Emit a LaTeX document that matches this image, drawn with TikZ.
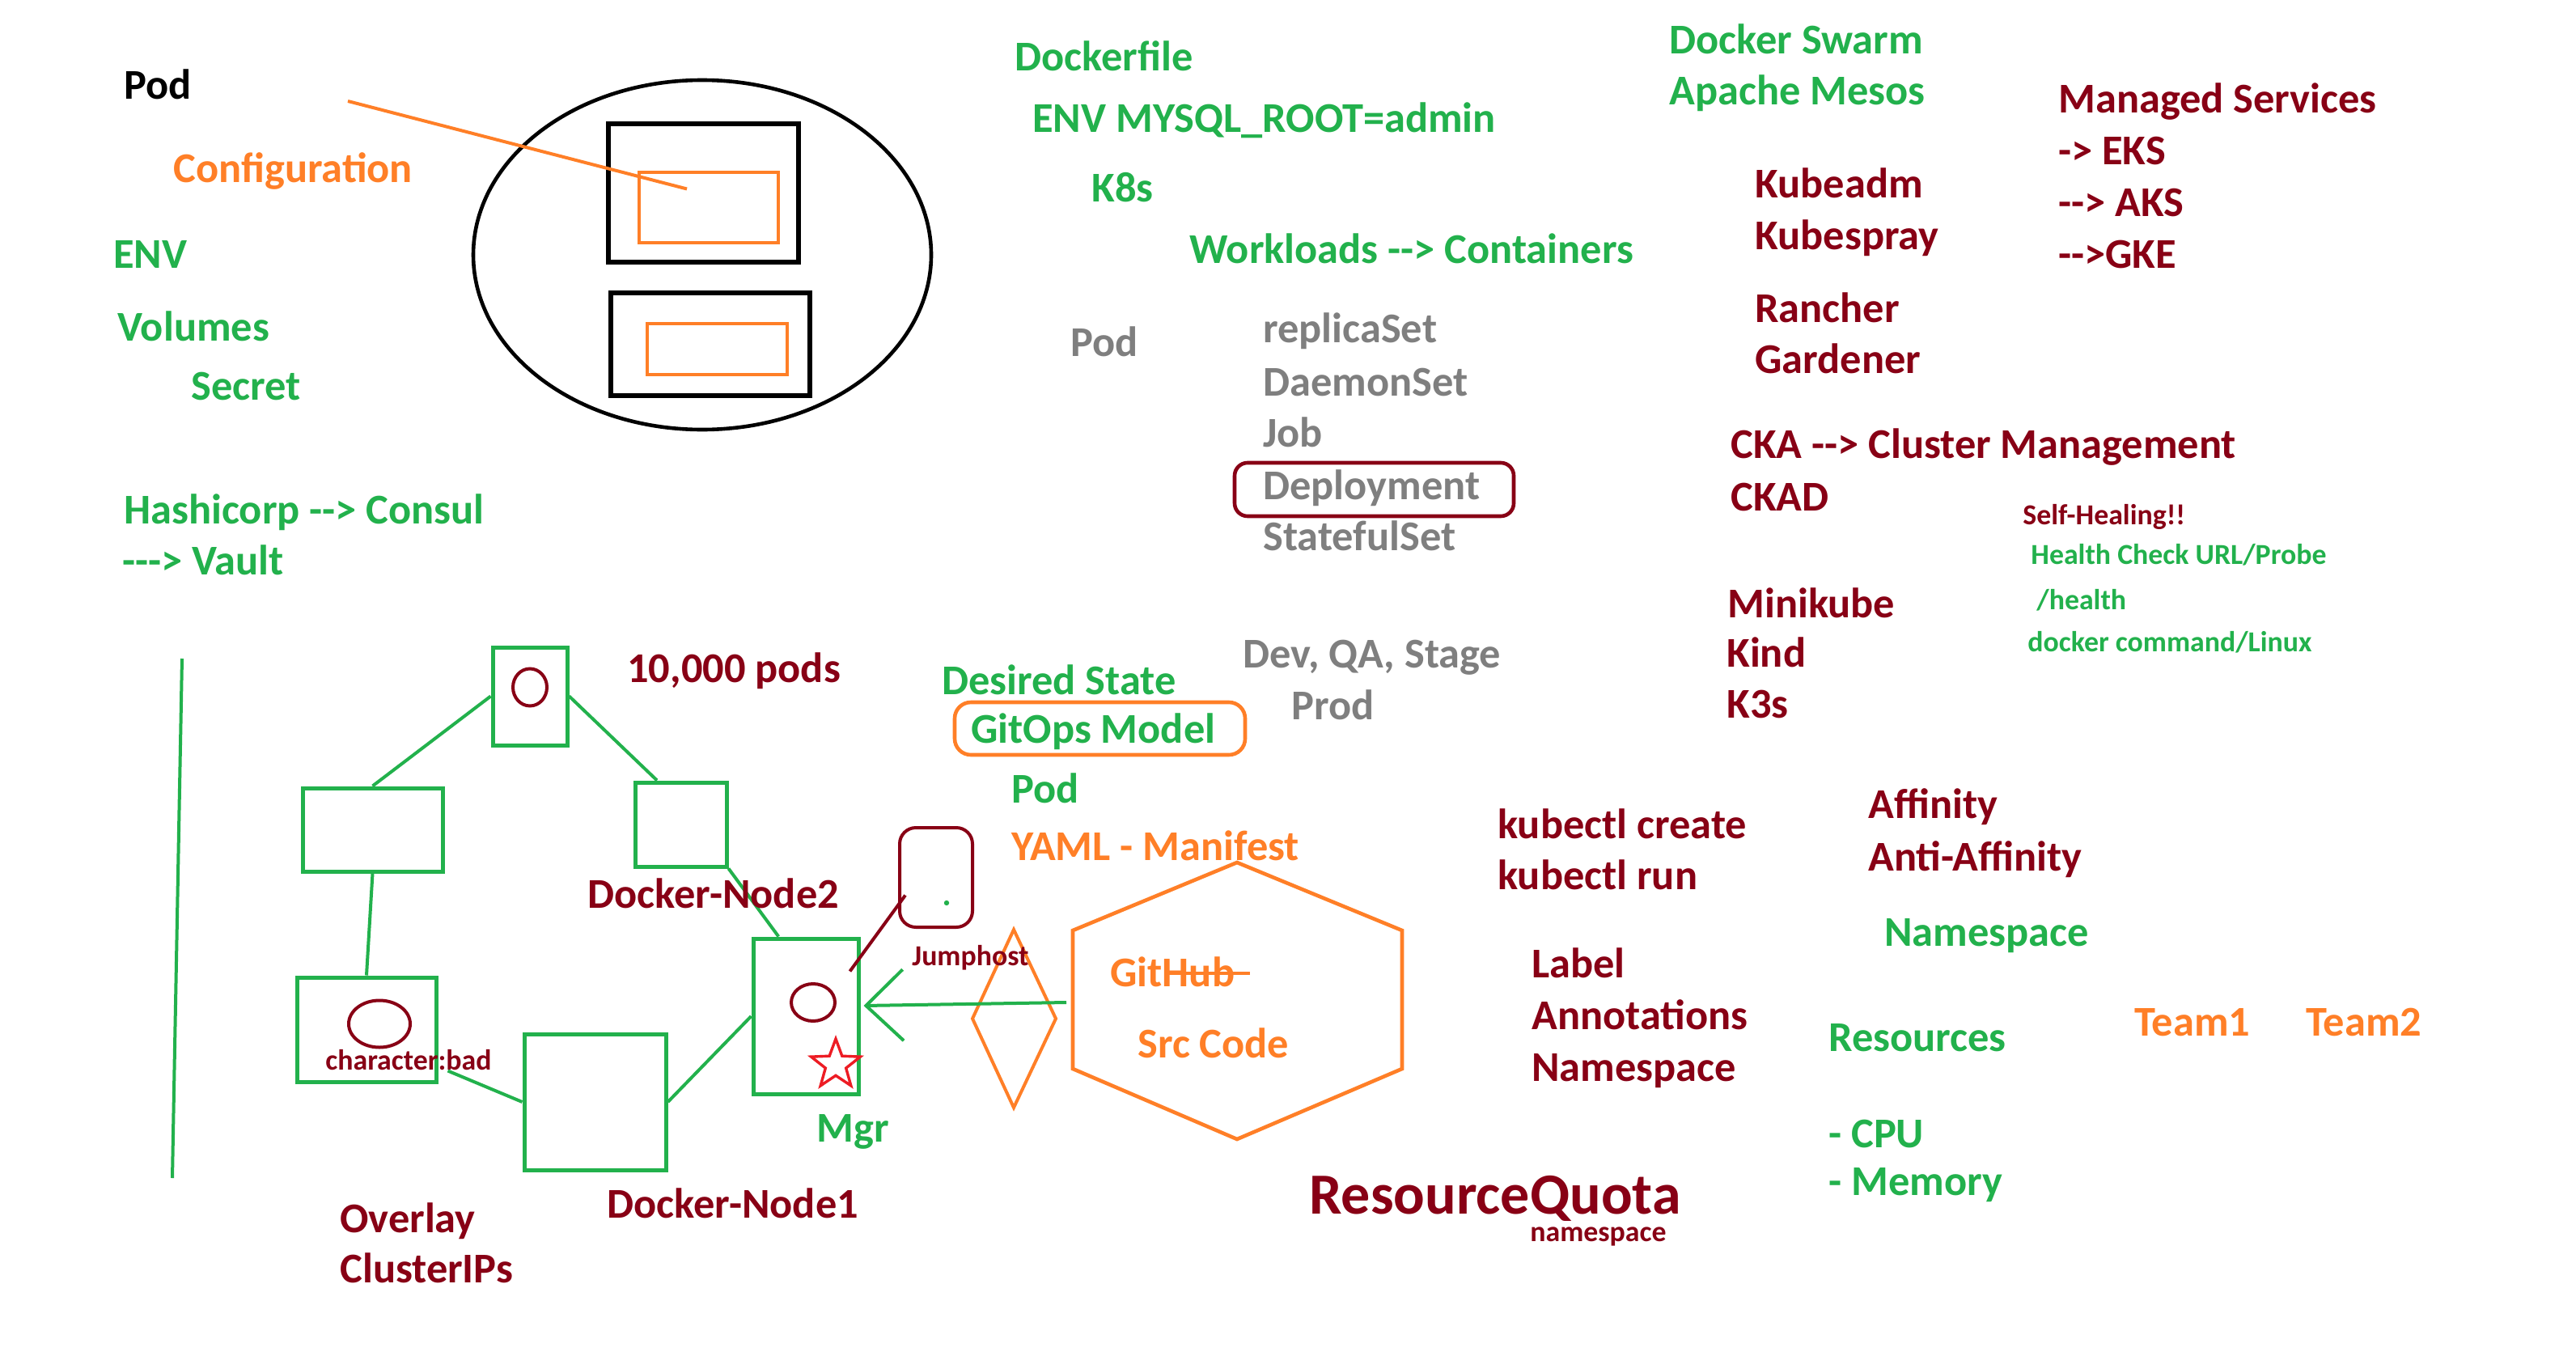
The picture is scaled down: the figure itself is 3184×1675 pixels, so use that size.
\documentclass[tikz,border=0pt]{standalone}
\usepackage{fontspec}
\setmainfont{Carlito}[Ligatures=TeXOff]
\usetikzlibrary{shapes.geometric,arrows.meta,calc}
\definecolor{pgreen}{HTML}{22B14C}
\definecolor{pdred}{HTML}{880015}
\definecolor{porange}{HTML}{FF7F27}
\definecolor{pgray}{HTML}{7F7F7F}
\definecolor{pred}{HTML}{ED1C24}
\begin{document}
\begin{tikzpicture}[x=0.5pt,y=-0.5pt,
  lbl/.style={anchor=base west, inner sep=0pt, font=\bfseries\fontsize{26.2}{31}\selectfont},
  small/.style={anchor=base west, inner sep=0pt, font=\bfseries\fontsize{17.9}{21}\selectfont},
  big/.style={anchor=base west, inner sep=0pt, font=\bfseries\fontsize{36}{42}\selectfont},
  gtx/.style={text=pgreen}, rtx/.style={text=pdred}, otx/.style={text=porange}, ytx/.style={text=pgray}, ktx/.style={text=black},
  gbox/.style={draw=pgreen, line width=2.5pt, inner sep=0pt, rectangle},
  kbox/.style={draw=black, line width=3pt, inner sep=0pt, rectangle},
  obox/.style={draw=porange, line width=2.3pt, inner sep=0pt, rectangle},
  rcirc/.style={draw=pdred, line width=2pt, inner sep=0pt, ellipse},
  gline/.style={draw=pgreen, line width=2pt},
  rline/.style={draw=pdred, line width=2pt},
  oline/.style={draw=porange, line width=2pt},
]
\fill[white] (0,0) rectangle (3184,1675);
\useasboundingbox (0,0) rectangle (3184,1675);

% ---------- Pod picture (top left) ----------
\node[ellipse, draw=black, line width=2.3pt, inner sep=0pt, minimum width=283pt, minimum height=216pt] (podell) at (868,315) {};
\node[kbox, minimum width=117.5pt, minimum height=85.5pt] (k1) at (869.5,238.5) {};
\node[obox, minimum width=86pt, minimum height=43.5pt] (c1) at (876,256.5) {};
\node[kbox, minimum width=123pt, minimum height=63.5pt] (k2) at (878,425.5) {};
\node[obox, minimum width=86.5pt, minimum height=31.5pt] (c2) at (886.5,431.5) {};
\coordinate (cfgstart) at (430,125);
\draw[oline] (cfgstart) -- ($(c1.center)+(-27,-23)$);

\node[lbl,ktx] (tpod) at (153,123) {Pod};
\node[lbl,otx] (tconf) at (214,225) {Configuration};
\node[lbl,gtx] (tenv) at (140,331) {ENV};
\node[lbl,gtx] (tvol) at (145,421) {Volumes};
\node[lbl,gtx] (tsec) at (236,494) {Secret};
\node[lbl,gtx] (thash) at (153,647) {Hashicorp --> Consul};
\node[lbl,gtx] (tvault) at (151,710) {---> Vault};

% ---------- top middle ----------
\node[lbl,gtx] (tdockerfile) at (1254,88) {Dockerfile};
\node[lbl,gtx] (tmysql) at (1276,163) {ENV MYSQL\_ROOT=admin};
\node[lbl,gtx] (tk8s) at (1349,249) {K8s};
\node[lbl,gtx] (twork) at (1470,325) {Workloads --> Containers};
\node[lbl,ytx] (tpod2) at (1323,440) {Pod};
\node[lbl,ytx] (trs) at (1561,423) {replicaSet};
\node[lbl,ytx] (tds) at (1561,489) {DaemonSet};
\node[lbl,ytx] (tjob) at (1561,552) {Job};
\node[lbl,ytx] (tdep) at (1561,617) {Deployment};
\draw[rline, line width=2.3pt, rounded corners=8pt] (1526,572) rectangle (1871,638);
\node[lbl,ytx] (tsts) at (1561,680) {StatefulSet};

\node[lbl,gtx] (tswarm) at (2063,67) {Docker Swarm};
\node[lbl,gtx] (tmesos) at (2063,130) {Apache Mesos};
\node[lbl,rtx] (tmanaged) at (2544,140) {Managed Services};
\node[lbl,rtx] (teks) at (2544,203) {-> EKS};
\node[lbl,rtx] (taks) at (2544,267) {--> AKS};
\node[lbl,rtx] (tgke) at (2544,331) {-->GKE};
\node[lbl,rtx] (tkadm) at (2169,244) {Kubeadm};
\node[lbl,rtx] (tkspray) at (2169,308) {Kubespray};
\node[lbl,rtx] (tranch) at (2169,398) {Rancher};
\node[lbl,rtx] (tgard) at (2169,461) {Gardener};
\node[lbl,rtx] (tcka) at (2139,566) {CKA --> Cluster Management};
\node[lbl,rtx] (tckad) at (2139,631) {CKAD};
\node[small,rtx] (theal) at (2500,648) {Self-Healing!!};
\node[small,gtx] (thc) at (2510,697) {Health Check URL/Probe};
\node[small,gtx] (thealth) at (2517,753) {/health};
\node[small,gtx] (tdcmd) at (2506,805) {docker command/Linux};
\node[lbl,rtx] (tmini) at (2135,763) {Minikube};
\node[lbl,rtx] (tkind) at (2134,824) {Kind};
\node[lbl,rtx] (tk3s) at (2134,887) {K3s};

% ---------- middle ----------
\node[lbl,ytx] (tdev) at (1536,825) {Dev, QA, Stage};
\node[lbl,ytx] (tprod) at (1596,889) {Prod};
\node[lbl,gtx] (tdes) at (1164,858) {Desired State};
\node[lbl,gtx] (tgitops) at (1200,918) {GitOps Model};
\draw[oline, line width=2.3pt, rounded corners=10pt] (1180,868) rectangle (1539,933);
\node[lbl,gtx] (tpod3) at (1250,992) {Pod};
\node[lbl,otx] (tyaml) at (1250,1063) {YAML - Manifest};

% hexagon (GitHub / Src Code)
\coordinate (hexW) at (1326,1236);
\draw[oline, line width=2.3pt] (1529,1066) -- (1733,1150) -- (1733,1321) -- (1529,1408) -- (1326,1321) -- (1326,1150) -- cycle;
\node[lbl,otx] (tgithub) at (1372,1219) {GitHub};
\draw[oline] ($(tgithub.base west)+(67,-16)$) -- ($(tgithub.base west)+(173,-16)$);
\node[lbl,otx] (tsrc) at (1406,1307) {Src Code};
% diamond
\draw[oline] (1253,1149) -- (1305,1259) -- (1253,1369) -- (1202,1259) -- cycle;

\node[lbl,rtx] (tkcreate) at (1851,1036) {kubectl create};
\node[lbl,rtx] (tkrun) at (1851,1099) {kubectl run};
\node[lbl,rtx] (taff) at (2309,1011) {Affinity};
\node[lbl,rtx] (tanti) at (2309,1076) {Anti-Affinity};
\node[lbl,gtx] (tns1) at (2329,1169) {Namespace};
\node[lbl,rtx] (tlabel) at (1893,1208) {Label};
\node[lbl,rtx] (tannot) at (1893,1272) {Annotations};
\node[lbl,rtx] (tns2) at (1893,1336) {Namespace};
\node[lbl,gtx] (tres) at (2260,1299) {Resources};
\node[lbl,otx] (tteam1) at (2638,1280) {Team1};
\node[lbl,otx] (tteam2) at (2850,1280) {Team2};
\node[lbl,gtx] (tcpu) at (2260,1418) {- CPU};
\node[lbl,gtx] (tmem) at (2260,1477) {- Memory};
\node[big,rtx] (trq) at (1618,1500) {ResourceQuota};
\node[small,rtx] (tns3) at (1891,1534) {namespace};

% ---------- cluster diagram (bottom left) ----------
\coordinate (vtop) at (225,814);
\coordinate (vbot) at (213,1456);
\draw[gline] (vtop) -- (vbot);

\node[gbox, minimum width=46pt, minimum height=60.5pt] (top) at (655,860.5) {};
\node[rcirc, minimum width=21pt, minimum height=23pt] (topc) at (655,849.5) {};
\node[gbox, minimum width=86.5pt, minimum height=51.5pt] (left) at (460.5,1025.5) {};
\node[gbox, minimum width=56.5pt, minimum height=52pt] (n2) at (841.5,1019) {};
\node[gbox, minimum width=86pt, minimum height=64.5pt] (bl) at (453,1272.5) {};
\node[rcirc, minimum width=38pt, minimum height=29pt] (blc) at (469,1265.5) {};
\node[gbox, minimum width=87.5pt, minimum height=84pt] (node1) at (735.5,1362) {};
\node[gbox, minimum width=65pt, minimum height=96pt] (mgr) at (996,1256) {};
\node[rcirc, minimum width=27pt, minimum height=23pt] (mgrc) at (1005,1239) {};
\node[star, star points=5, star point ratio=2.4, draw=pred, line width=1.7pt, inner sep=0pt, minimum size=32pt] (star) at (1033,1316) {};
\node[draw=pdred, line width=2pt, rounded corners=10pt, inner sep=0pt, minimum width=45pt, minimum height=61.5pt] (jh) at (1157,1084.5) {};
\fill[pgreen] (1170,1116) circle[radius=1.6pt];

\draw[gline] (top.west) -- (left.north);
\draw[gline] (top.east) -- ($(n2.north west)!0.25!(n2.north east)$);
\draw[gline] (left.south) -- (bl.north);
\draw[gline] ($(bl.south east)+(12,-16)$) -- (node1.west);
\draw[gline] (node1.east) -- (mgr.west);
\draw[gline] (n2.south east) -- ($(mgr.north west)!0.25!(mgr.north east)$);
\draw[rline] ($(jh.west)+(9,22)$) -- ($(mgr.north east)+(-13,43)$);
\draw[gline, -{Straight Barb[length=23pt, width=44pt, line width=2pt]}] ($(hexW)+(-8,3)$) -- ($(mgr.east)+(4,-13)$);

\node[lbl,rtx] (tpods) at (775,843) {10,000 pods};
\node[lbl,rtx] (tnode2) at (726,1122) {Docker-Node2};
\node[small,rtx] (tbad) at (402,1322) {character:bad};
\node[lbl,rtx] (tnode1) at (750,1505) {Docker-Node1};
\node[lbl,gtx] (tmgr) at (1009,1411) {Mgr};
\node[small,rtx] (tjh) at (1127,1193) {Jumphost};
\node[lbl,rtx] (toverlay) at (420,1523) {Overlay};
\node[lbl,rtx] (tcips) at (420,1585) {ClusterIPs};
\end{tikzpicture}
\end{document}
